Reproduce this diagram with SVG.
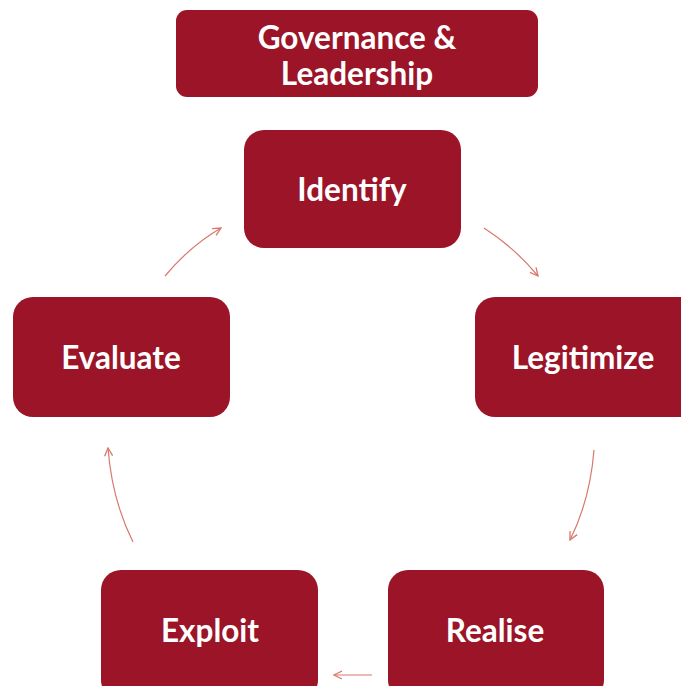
<svg xmlns="http://www.w3.org/2000/svg" width="681" height="686" viewBox="0 0 681 686">
<defs>
<style>
.box{fill:#9B1427;}
.lbl{fill:#ffffff;font-family:Lato,"Open Sans","Liberation Sans",sans-serif;font-weight:bold;font-size:31.5px;text-anchor:middle;}
.con{fill:none;stroke:#D9786C;stroke-width:1.2;}
</style>
<marker id="ah" viewBox="0 0 10 10" refX="9" refY="5" markerWidth="10" markerHeight="10" markerUnits="userSpaceOnUse" orient="auto">
<path d="M1,1 L9,5 L1,9" fill="none" stroke="#D9786C" stroke-width="1.3"/>
</marker>
</defs>
<rect width="681" height="686" fill="#ffffff"/>
<g id="connectors">
<path class="con" d="M484,228 Q515,248 538,276" marker-end="url(#ah)"/>
<path class="con" d="M594,450 Q590,500 570,540" marker-end="url(#ah)"/>
<path class="con" d="M372,675 L334,675" marker-end="url(#ah)"/>
<path class="con" d="M133,542 Q112,500 108,448" marker-end="url(#ah)"/>
<path class="con" d="M165,276 Q190,246 221,228" marker-end="url(#ah)"/>
</g>
<g id="governance">
<rect class="box" x="176" y="10" width="362" height="87" rx="11"/>
<text class="lbl" x="357" y="49">Governance &amp;</text>
<text class="lbl" x="357" y="85">Leadership</text>
</g>
<g id="identify">
<rect class="box" x="244" y="130" width="217" height="118" rx="20"/>
<text class="lbl" x="352" y="201">Identify</text>
</g>
<g id="legitimize">
<rect class="box" x="475" y="297" width="230" height="120" rx="20"/>
<text class="lbl" x="583" y="369">Legitimize</text>
</g>
<g id="realise">
<rect class="box" x="388" y="570" width="216" height="130" rx="20"/>
<text class="lbl" x="495" y="642">Realise</text>
</g>
<g id="exploit">
<rect class="box" x="101" y="570" width="217" height="130" rx="20"/>
<text class="lbl" x="210" y="642">Exploit</text>
</g>
<g id="evaluate">
<rect class="box" x="13" y="297" width="217" height="120" rx="20"/>
<text class="lbl" x="121" y="369">Evaluate</text>
</g>
</svg>
